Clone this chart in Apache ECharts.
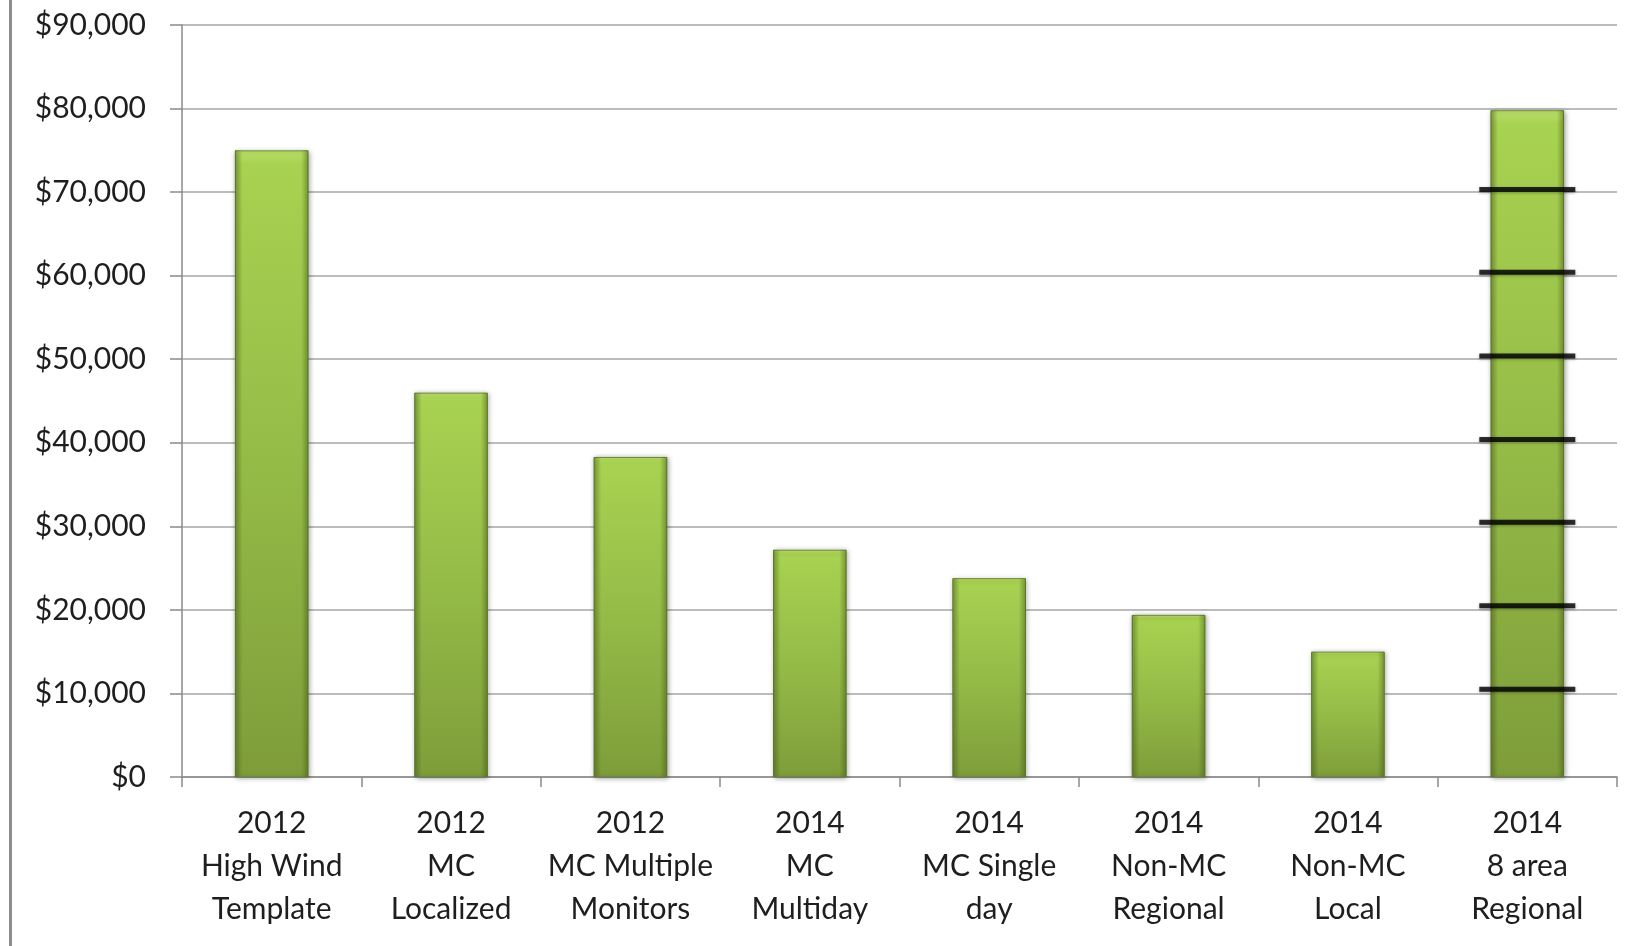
<!DOCTYPE html>
<html>
<head>
<meta charset="utf-8">
<script src="https://cdn.jsdelivr.net/npm/echarts@6/dist/echarts.min.js"></script>
<style>
html,body{margin:0;padding:0;background:#fff;}
#chart{width:1639px;height:946px;}
</style>
</head>
<body>
<div id="chart"></div>
<script>
const categories = [
  '2012\nHigh Wind\nTemplate',
  '2012\nMC\nLocalized',
  '2012\nMC Multiple\nMonitors',
  '2014\nMC\nMultiday',
  '2014\nMC Single\nday',
  '2014\nNon-MC\nRegional',
  '2014\nNon-MC\nLocal',
  '2014\n8 area\nRegional'
];
const costs = [75000, 46000, 38300, 27200, 23800, 19400, 15000, 79800];
const dividerCategory = '2014\n8 area\nRegional';
const dividerValues = [10500, 20500, 30500, 40400, 50400, 60400, 70300];
const yTicks = [0, 10000, 20000, 30000, 40000, 50000, 60000, 70000, 80000, 90000];

const FONT = 'Lato';
const chart = echarts.init(document.getElementById('chart'));
chart.setOption({
  animation: false,
  backgroundColor: '#ffffff',
  graphic: [{
    type: 'rect',
    shape: { x: 9, y: 0, width: 3, height: 946 },
    style: { fill: '#8c8c8c' }
  }],
  grid: { left: 182, right: 22, top: 25, bottom: 169, containLabel: false },
  xAxis: {
    type: 'category',
    data: categories,
    axisLine: { show: true, lineStyle: { color: '#8a8a8a', width: 1.5 } },
    axisTick: { show: true, alignWithLabel: false, length: 10, lineStyle: { color: '#8a8a8a', width: 1.5 } },
    axisLabel: {
      interval: 0, margin: 25, fontFamily: FONT, fontSize: 30, color: '#1e1e1e',
      lineHeight: 43
    }
  },
  yAxis: {
    type: 'value',
    min: yTicks[0],
    max: yTicks[yTicks.length - 1],
    interval: 10000,
    axisLine: { show: true, lineStyle: { color: '#8a8a8a', width: 1.5 } },
    axisTick: { show: true, inside: false, length: 12, lineStyle: { color: '#8a8a8a', width: 1.5 } },
    splitLine: { show: true, lineStyle: { color: '#a6a6a6', width: 1.5 } },
    axisLabel: {
      margin: 36, fontFamily: FONT, fontSize: 30, color: '#1e1e1e',
      formatter: v => '$' + v.toLocaleString('en-US')
    }
  },
  series: [
    {
      type: 'bar',
      data: costs,
      barWidth: '41%',
      z: 2,
      itemStyle: {
        color: new echarts.graphic.LinearGradient(0, 0, 0, 1, [
          { offset: 0, color: '#bde36c' },
          { offset: 0.02, color: '#a8d251' },
          { offset: 0.5, color: '#95bb47' },
          { offset: 1, color: '#7e9d3a' }
        ]),
        borderColor: '#6f8e30',
        borderWidth: 1,
        shadowBlur: 5,
        shadowColor: 'rgba(0,0,0,0.35)',
        shadowOffsetX: 1,
        shadowOffsetY: 1
      }
    },
    {
      type: 'bar',
      data: costs,
      barWidth: '41%',
      barGap: '-100%',
      z: 3,
      silent: true,
      itemStyle: {
        color: new echarts.graphic.LinearGradient(0, 0, 1, 0, [
          { offset: 0, color: 'rgba(60,85,20,0.45)' },
          { offset: 0.1, color: 'rgba(60,85,20,0)' },
          { offset: 0.9, color: 'rgba(60,85,20,0)' },
          { offset: 1, color: 'rgba(60,85,20,0.45)' }
        ])
      }
    },
    {
      type: 'scatter',
      data: dividerValues.map(v => [dividerCategory, v]),
      symbol: 'rect',
      symbolSize: [96, 5],
      z: 5,
      silent: true,
      itemStyle: {
        color: '#000000',
        shadowBlur: 3,
        shadowColor: 'rgba(0,0,0,0.4)',
        shadowOffsetY: 1
      }
    }
  ]
});
</script>
</body>
</html>
